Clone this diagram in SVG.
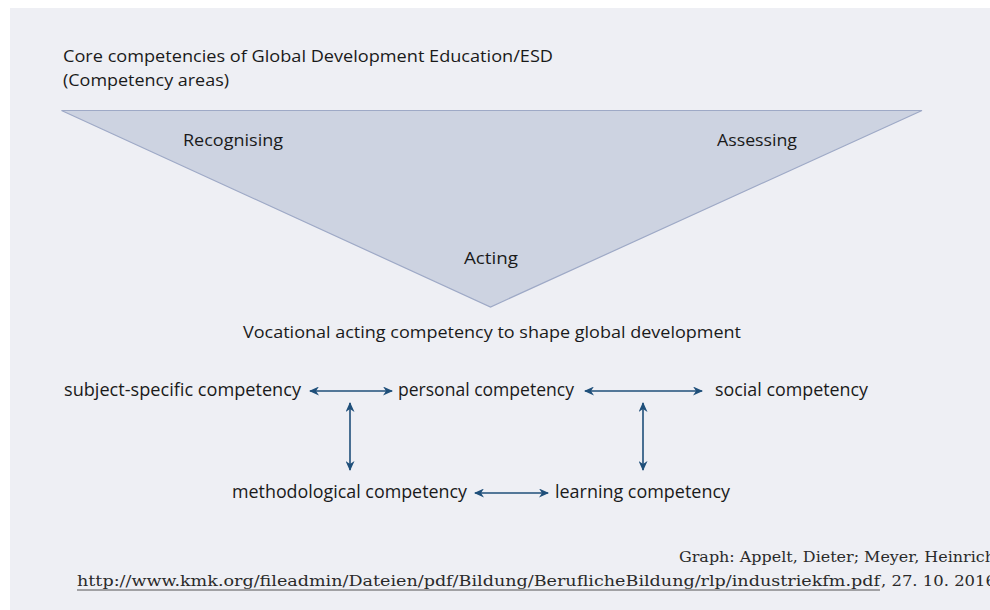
<svg xmlns="http://www.w3.org/2000/svg" width="990" height="610" viewBox="0 0 990 610">
<defs>
<style>
.t{font-family:"Open Sans","Noto Sans",sans-serif;fill:#1a1a1a;}
.h{font-size:16px;}
.n{font-size:18px;}
.s{font-family:"DejaVu Serif","Liberation Serif",serif;font-size:15px;fill:#2a2a2a;}
.c{stroke:#1f4f7a;stroke-width:1.6;fill:none;marker-start:url(#ah);marker-end:url(#ah);}
</style>
<marker id="ah" viewBox="0 0 10 10" refX="9" refY="5" markerWidth="10" markerHeight="9" markerUnits="userSpaceOnUse" orient="auto-start-reverse" preserveAspectRatio="none">
<path d="M0,0 L10,5 L0,10 L3,5 z" fill="#1f4f7a"/>
</marker>
</defs>
<rect x="0" y="0" width="990" height="610" fill="#ffffff"/>
<rect x="10" y="8" width="980" height="602" fill="#eeeff4"/>
<g id="title">
<text class="t h" x="63" y="62" textLength="490" lengthAdjust="spacingAndGlyphs">Core competencies of Global Development Education/ESD</text>
<text class="t h" x="63" y="86" textLength="166" lengthAdjust="spacingAndGlyphs">(Competency areas)</text>
</g>
<g id="triangle">
<polygon points="61.5,110.5 922,110.5 490.5,307" fill="#cdd3e1" stroke="#9ea9c6" stroke-width="1.2"/>
<text class="t h" x="183" y="146" textLength="100" lengthAdjust="spacingAndGlyphs">Recognising</text>
<text class="t h" x="717" y="146" textLength="80" lengthAdjust="spacingAndGlyphs">Assessing</text>
<text class="t h" x="464" y="264" textLength="54" lengthAdjust="spacingAndGlyphs">Acting</text>
</g>
<g id="vocational">
<text class="t h" x="243" y="338" textLength="498" lengthAdjust="spacingAndGlyphs">Vocational acting competency to shape global development</text>
</g>
<g id="subject"><text class="t n" x="64" y="396" textLength="237" lengthAdjust="spacingAndGlyphs">subject-specific competency</text></g>
<g id="personal"><text class="t n" x="398" y="396" textLength="176" lengthAdjust="spacingAndGlyphs">personal competency</text></g>
<g id="social"><text class="t n" x="715" y="396" textLength="153" lengthAdjust="spacingAndGlyphs">social competency</text></g>
<g id="methodological"><text class="t n" x="232" y="498" textLength="235" lengthAdjust="spacingAndGlyphs">methodological competency</text></g>
<g id="learning"><text class="t n" x="555" y="498" textLength="175" lengthAdjust="spacingAndGlyphs">learning competency</text></g>
<g id="connectors">
<line class="c" x1="310" y1="391" x2="392" y2="391"/>
<line class="c" x1="585" y1="391" x2="702" y2="391"/>
<line class="c" x1="350" y1="403" x2="350" y2="470"/>
<line class="c" x1="643" y1="403" x2="643" y2="470"/>
<line class="c" x1="475" y1="493" x2="548" y2="493"/>
</g>
<g id="credits">
<text class="s" x="679" y="562" textLength="316" lengthAdjust="spacingAndGlyphs">Graph: Appelt, Dieter; Meyer, Heinrich</text>
<text class="s" x="77" y="586" textLength="803" lengthAdjust="spacingAndGlyphs">http://www.kmk.org/fileadmin/Dateien/pdf/Bildung/BeruflicheBildung/rlp/industriekfm.pdf</text>
<line x1="77" y1="590" x2="880" y2="590" stroke="#555" stroke-width="1.2"/>
<text class="s" x="881" y="586" textLength="115" lengthAdjust="spacingAndGlyphs">, 27. 10. 2016</text>
</g>
</svg>
